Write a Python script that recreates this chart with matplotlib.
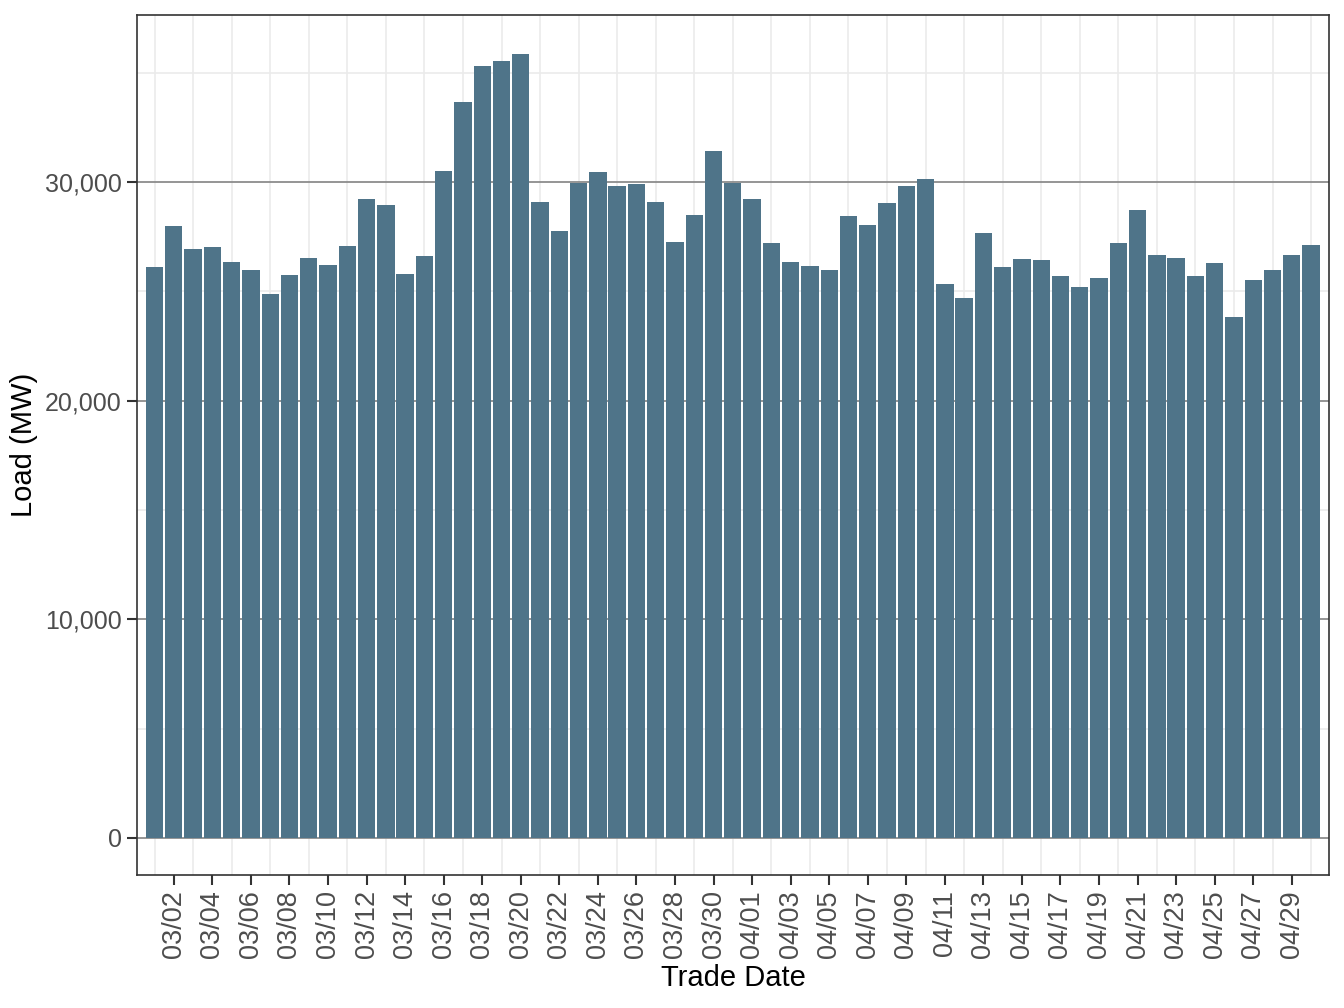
from matplotlib import pyplot as plt
import pandas as pd

plt.rcParams["font.family"] = ["Liberation Sans", "DejaVu Sans"]

# Daily load, 03/01 to 04/30
dates = pd.date_range("2021-03-01", "2021-04-30", freq="D")
load = [
    26100, 27980, 26930, 27020, 26340, 25970, 24870, 25740, 26520, 26200,
    27070, 29220, 28940, 25790, 26610, 30500, 33650, 35300, 35530, 35850,
    29080, 27750, 29950, 30450, 29810, 29900, 29080, 27250, 28490, 31410,
    29950, 29220, 27210, 26340, 26150, 25970, 28440, 28030, 29030, 29810,
    30130, 25330, 24690, 27660, 26110, 26470, 26430, 25700, 25190, 25610,
    27210, 28710, 26660, 26520, 25700, 26290, 23820, 25510, 25970, 26660,
    27110,
]
labels = [d.strftime("%m/%d") for d in dates]
y_major = [0, 10000, 20000, 30000]
y_minor = [5000, 15000, 25000, 35000]

fig = plt.figure(figsize=(13.44, 10.08), dpi=100)
ax = fig.add_axes([137 / 1344, 133 / 1008, 1192 / 1344, 860 / 1008])

pos = list(range(1, len(load) + 1))

# Grid lines (behind the bars)
for p in pos[::2]:
    ax.axvline(p, color="#EBEBEB", lw=1.2, zorder=0)
for v in y_minor:
    ax.axhline(v, color="#EBEBEB", lw=1.2, zorder=0)
for v in y_major:
    ax.axhline(v, color="#8C8C8C", lw=1.3, zorder=0)

ax.bar(pos, load, width=0.9, color="#4F7489", zorder=2)

ax.set_xlim(0.09, 61.93)
ax.set_ylim(-1700, 37640)

ax.set_xticks(pos[1::2])
ax.set_xticklabels(labels[1::2], rotation=90)
ax.set_yticks(y_major)
ax.set_yticklabels([f"{v:,}" for v in y_major])
ax.tick_params(axis="both", labelcolor="#4D4D4D",
               color="#333333", length=7, width=1.5, pad=4)
ax.tick_params(axis="x", labelsize=19.5)
ax.tick_params(axis="y", labelsize=18)

for s in ax.spines.values():
    s.set_color("#333333")
    s.set_linewidth(1.2)

ax.set_xlabel("Trade Date", size=21, labelpad=4)
ax.set_ylabel("Load (MW)", size=21, labelpad=5)

fig.savefig("out.png", dpi=100)
